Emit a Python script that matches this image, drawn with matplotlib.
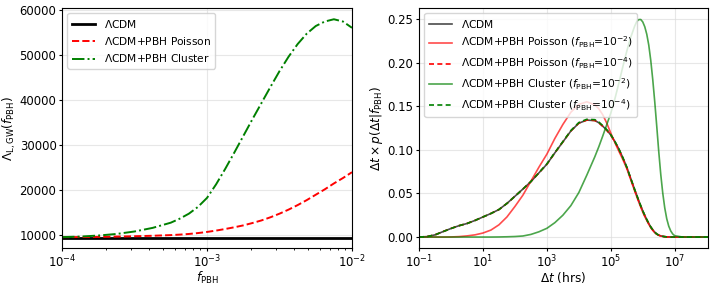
import matplotlib
matplotlib.use("Agg")
import matplotlib.pyplot as plt
from matplotlib.ticker import NullLocator

# ---------------- Left panel data ----------------
log_f = [-4.0, -3.875, -3.75, -3.625, -3.5, -3.375, -3.25, -3.1875, -3.125, -3.0625,
         -3.0, -2.9375, -2.875, -2.8125, -2.75, -2.6875, -2.625, -2.5625, -2.5, -2.4375,
         -2.375, -2.3125, -2.25, -2.1875, -2.125, -2.0625, -2.0]
f_pbh = [10 ** v for v in log_f]
lam_lcdm = [9450] * len(log_f)
lam_poisson = [9600, 9620, 9650, 9720, 9800, 9900, 10050, 10160, 10300, 10500,
               10750, 11050, 11400, 11780, 12200, 12720, 13300, 14000, 14800, 15700,
               16700, 17800, 19000, 20200, 21500, 22700, 24000]
lam_cluster = [9600, 9720, 9950, 10300, 10850, 11650, 12800, 13700, 14800, 16300,
               18300, 21300, 24700, 28300, 32000, 35700, 39300, 42900, 46400, 49600,
               52400, 54700, 56400, 57400, 57900, 57400, 56000]

# ---------------- Right panel data ----------------
log_dt = [-1.0, -0.75, -0.5, -0.25, 0.0, 0.25, 0.5, 0.75, 1.0, 1.25, 1.5, 1.75,
          2.0, 2.25, 2.5, 2.75, 3.0, 3.25, 3.5, 3.75, 4.0, 4.25, 4.5,
          4.625, 4.75, 4.875, 5.0, 5.125, 5.25, 5.375, 5.5, 5.625, 5.75,
          5.8125, 5.875, 5.9375, 6.0, 6.0625, 6.125, 6.1875, 6.25, 6.3125, 6.375,
          6.4375, 6.5, 6.5625, 6.625, 6.6875, 6.75, 6.8125, 6.875, 6.9375, 7.0,
          7.25, 7.5, 8.0, 8.5]
dt_hrs = [10 ** v for v in log_dt]
p_lcdm = [0.0, 0.0005, 0.0025, 0.0062, 0.0098, 0.0130, 0.0155, 0.0190, 0.0230, 0.0270, 0.0315, 0.0385,
          0.0467, 0.0550, 0.0635, 0.0735, 0.0835, 0.0965, 0.1090, 0.1215, 0.1305, 0.1340, 0.1335,
          0.1310, 0.1270, 0.1225, 0.1170, 0.1095, 0.1010, 0.0910, 0.0800, 0.0670, 0.0540,
          0.0478, 0.0415, 0.0357, 0.0300, 0.0248, 0.0200, 0.0155, 0.0115, 0.0083, 0.0055,
          0.0035, 0.0022, 0.0013, 0.0008, 0.0004, 0.0002, 0.0001, 0.0, 0.0, 0.0,
          0.0, 0.0, 0.0, 0.0]
p_poisson_2 = [0.0, 0.0, 0.0, 0.0, 0.0001, 0.0005, 0.0013, 0.0025, 0.0046, 0.0080, 0.0140, 0.0230,
               0.0350, 0.0480, 0.0640, 0.0800, 0.0950, 0.1130, 0.1290, 0.1430, 0.1520, 0.1550, 0.1515,
               0.1470, 0.1400, 0.1305, 0.1190, 0.1085, 0.0985, 0.0890, 0.0785, 0.0655, 0.0525,
               0.0462, 0.0400, 0.0342, 0.0285, 0.0235, 0.0190, 0.0147, 0.0108, 0.0077, 0.0050,
               0.0032, 0.0020, 0.0012, 0.0007, 0.0004, 0.0002, 0.0001, 0.0, 0.0, 0.0,
               0.0, 0.0, 0.0, 0.0]
p_poisson_4 = [0.0, 0.0005, 0.0025, 0.0062, 0.0098, 0.0130, 0.0155, 0.0190, 0.0230, 0.0270, 0.0315, 0.0385,
               0.0467, 0.0550, 0.0635, 0.0735, 0.0835, 0.0965, 0.1090, 0.1216, 0.1306, 0.1341, 0.1336,
               0.1310, 0.1268, 0.1222, 0.1167, 0.1092, 0.1007, 0.0907, 0.0797, 0.0667, 0.0537,
               0.0475, 0.0412, 0.0354, 0.0297, 0.0245, 0.0198, 0.0153, 0.0113, 0.0081, 0.0054,
               0.0034, 0.0021, 0.0013, 0.0008, 0.0004, 0.0002, 0.0001, 0.0, 0.0, 0.0,
               0.0, 0.0, 0.0, 0.0]
p_cluster_2 = [0.0, 0.0, 0.0, 0.0, 0.0, 0.0, 0.0, 0.0, 0.0, 0.0, 0.0001, 0.0003,
               0.0006, 0.0012, 0.0030, 0.0060, 0.0100, 0.0165, 0.0250, 0.0360, 0.0510, 0.0710, 0.0920,
               0.1035, 0.1160, 0.1290, 0.1420, 0.1580, 0.1760, 0.1950, 0.2130, 0.2290, 0.2420,
               0.2470, 0.2492, 0.2493, 0.2465, 0.2410, 0.2325, 0.2200, 0.2025, 0.1805, 0.1550,
               0.1270, 0.0980, 0.0720, 0.0505, 0.0335, 0.0210, 0.0125, 0.0070, 0.0035, 0.0015,
               0.0, 0.0, 0.0, 0.0]
p_cluster_4 = [0.0, 0.0005, 0.0025, 0.0062, 0.0098, 0.0130, 0.0155, 0.0190, 0.0230, 0.0270, 0.0315, 0.0385,
               0.0467, 0.0550, 0.0636, 0.0737, 0.0838, 0.0968, 0.1093, 0.1220, 0.1312, 0.1350, 0.1345,
               0.1318, 0.1276, 0.1230, 0.1173, 0.1097, 0.1012, 0.0911, 0.0801, 0.0671, 0.0541,
               0.0479, 0.0416, 0.0358, 0.0301, 0.0249, 0.0201, 0.0156, 0.0116, 0.0084, 0.0056,
               0.0035, 0.0022, 0.0013, 0.0008, 0.0004, 0.0002, 0.0001, 0.0, 0.0, 0.0,
               0.0, 0.0, 0.0, 0.0]

TICK = 8.4
LAB = 8.7
LEG = 7.7

fig = plt.figure(figsize=(7.13, 2.85), dpi=100)
ax1 = fig.add_axes([0.087, 0.130, 0.4067, 0.842])
ax2 = fig.add_axes([0.5877, 0.130, 0.4053, 0.842])

# Left panel
ax1.plot(f_pbh, lam_lcdm, color='k', lw=2.0, label=r'$\Lambda$CDM')
ax1.plot(f_pbh, lam_poisson, color='r', ls='--', lw=1.4, label=r'$\Lambda$CDM+PBH Poisson')
ax1.plot(f_pbh, lam_cluster, color='g', ls='-.', lw=1.4, label=r'$\Lambda$CDM+PBH Cluster')
ax1.set_xscale('log')
ax1.set_xlim(1e-4, 1e-2)
ax1.set_ylim(7200, 60400)
ax1.set_yticks([10000, 20000, 30000, 40000, 50000, 60000])
ax1.grid(True, color='#dddddd', lw=0.8, alpha=0.7)
ax1.set_xlabel(r'$f_{\rm PBH}$', fontsize=LAB, labelpad=0)
ax1.set_ylabel(r'$\Lambda_{\rm L,GW}(f_{\rm PBH})$', fontsize=LAB, labelpad=1)
ax1.tick_params(which='major', labelsize=TICK, length=2.5, pad=1.5)
ax1.tick_params(which='minor', length=1.5)
ax1.legend(loc='upper left', fontsize=LEG, framealpha=0.8, handlelength=2.2)

# Right panel
a = 0.7
ax2.plot(dt_hrs, p_lcdm, color='k', lw=1.2, alpha=a, label=r'$\Lambda$CDM')
ax2.plot(dt_hrs, p_poisson_2, color='r', lw=1.2, alpha=a,
         label=r'$\Lambda$CDM+PBH Poisson ($f_{\rm PBH}$=$10^{-2}$)')
ax2.plot(dt_hrs, p_poisson_4, color='r', ls='--', lw=1.2, alpha=1.0, dashes=(3, 2),
         label=r'$\Lambda$CDM+PBH Poisson ($f_{\rm PBH}$=$10^{-4}$)')
ax2.plot(dt_hrs, p_cluster_2, color='g', lw=1.2, alpha=a,
         label=r'$\Lambda$CDM+PBH Cluster ($f_{\rm PBH}$=$10^{-2}$)')
ax2.plot(dt_hrs, p_cluster_4, color='g', ls='--', lw=1.2, alpha=1.0, dashes=(3, 2),
         label=r'$\Lambda$CDM+PBH Cluster ($f_{\rm PBH}$=$10^{-4}$)')
ax2.set_xscale('log')
ax2.set_xlim(1e-1, 1.1e8)
ax2.set_xticks([1e-1, 1e1, 1e3, 1e5, 1e7])
ax2.xaxis.set_minor_locator(NullLocator())
ax2.set_ylim(-0.0125, 0.2625)
ax2.set_yticks([0.0, 0.05, 0.10, 0.15, 0.20, 0.25])
ax2.grid(True, color='#dddddd', lw=0.8, alpha=0.7)
ax2.set_xlabel(r'$\Delta t$ (hrs)', fontsize=LAB, labelpad=0)
ax2.set_ylabel(r'$\Delta t \times p(\Delta t | f_{\rm PBH})$', fontsize=LAB, labelpad=2)
ax2.tick_params(which='major', labelsize=TICK, length=2.5, pad=1.5)
ax2.legend(loc='upper left', fontsize=LEG, framealpha=0.8, handlelength=2.2)

fig.savefig('out.png', dpi=100)
